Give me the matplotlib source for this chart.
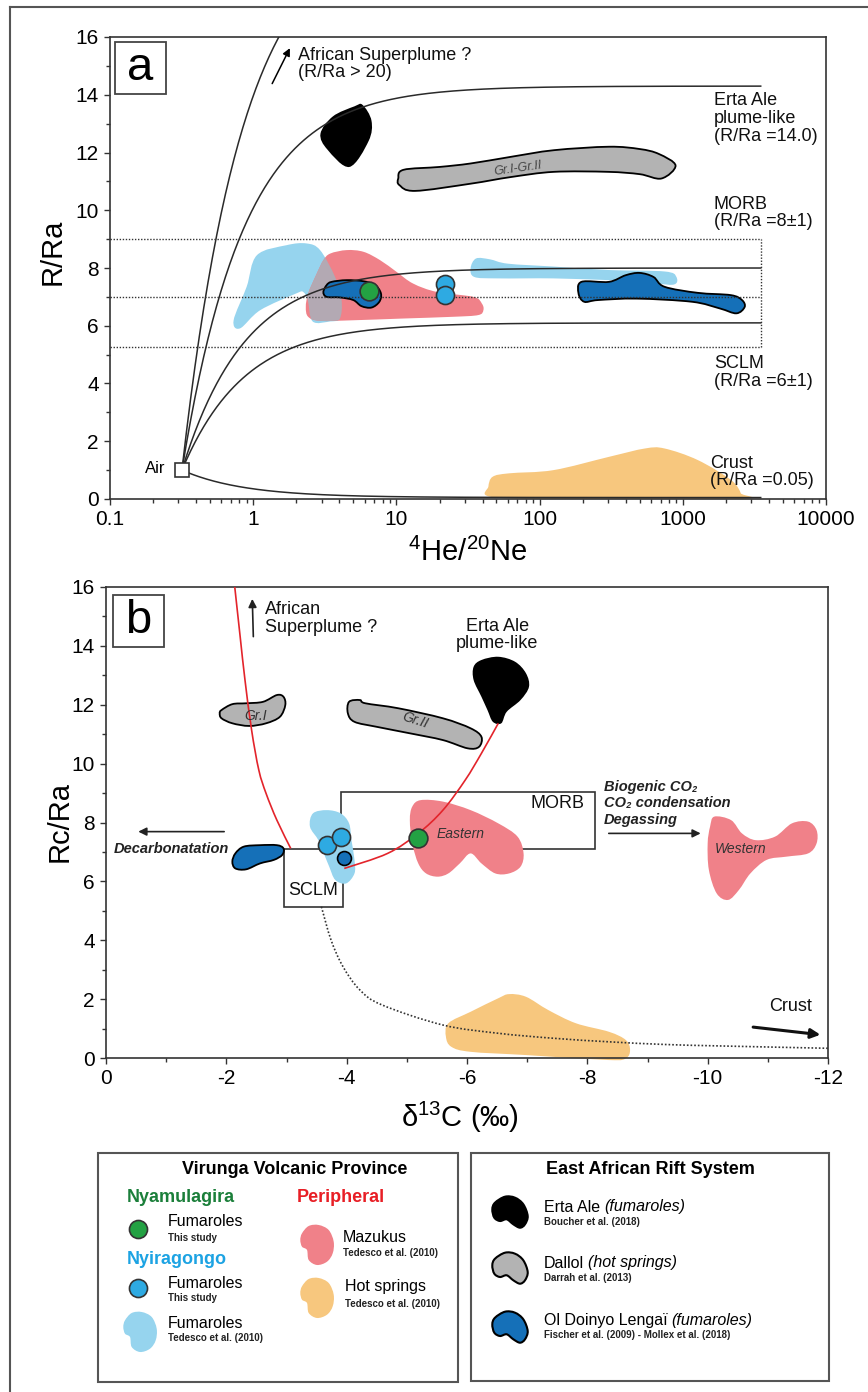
import numpy as np
import matplotlib
matplotlib.use('Agg')
import matplotlib.pyplot as plt
from matplotlib.path import Path
from matplotlib.patches import PathPatch, Rectangle
from matplotlib.lines import Line2D
from matplotlib.ticker import LogLocator, NullFormatter, MultipleLocator

plt.rcParams['font.family'] = ['Liberation Sans', 'DejaVu Sans']
plt.rcParams['mathtext.fontset'] = 'custom'
plt.rcParams['mathtext.rm'] = 'Liberation Sans'
plt.rcParams['mathtext.it'] = 'Liberation Sans:italic'
plt.rcParams['mathtext.bf'] = 'Liberation Sans:bold'
plt.rcParams['axes.unicode_minus'] = False

# ---------------- data: panel a (4He/20Ne vs R/Ra) ----------------
air_hene, air_r = 0.318, 1.0
endmembers = [20.0, 14.3, 8.0, 6.1, 0.05]      # superplume, Erta Ale, MORB, SCLM, crust
morb_band = [7.0, 9.0]
sclm_band = [5.25, 7.0]

erta_a_x = [5.8, 6.7, 6.4, 4.7, 3.3, 2.95, 3.6, 5.1]
erta_a_y = [13.65, 13.1, 12.4, 11.5, 12.1, 12.65, 13.25, 13.6]

dallol_a_x = [10.3, 11.2, 20, 33, 63, 126, 305, 500, 680, 890, 710, 500, 300, 126, 63, 33, 13.5, 10.5]
dallol_a_y = [11.1, 11.4, 11.5, 11.62, 11.85, 12.08, 12.2, 12.12, 11.95, 11.55, 11.1, 11.25, 11.33,
              11.33, 11.15, 10.92, 10.67, 10.87]

nyir_a_x = [0.73, 0.9, 1.06, 1.71, 2.36, 2.93, 3.73, 4.14, 4.03, 3.45, 2.6, 2.4, 2.23, 2.0, 1.12, 0.81]
nyir_a_y = [6.19, 7.35, 8.44, 8.79, 8.85, 8.62, 7.69, 6.89, 6.25, 6.15, 6.15, 6.9, 7.17, 7.12, 6.54, 5.91]

nyir2_a_x = [36, 45, 60, 125, 305, 745, 900, 850, 500, 305, 125, 51, 35, 33]
nyir2_a_y = [8.33, 8.3, 8.15, 8.05, 7.93, 7.88, 7.7, 7.42, 7.55, 7.58, 7.64, 7.64, 7.69, 8.0]

mazuku_a_x = [3.45, 4.5, 5.9, 7.7, 10.0, 13.1, 19.2, 34.5, 39.5, 40.5, 37.3, 24.8, 11.1, 5.0, 2.93,
              2.42, 2.33, 2.42, 2.78, 3.09]
mazuku_a_y = [8.5, 8.62, 8.56, 8.27, 7.87, 7.46, 7.17, 7.0, 6.77, 6.54, 6.37, 6.31, 6.25, 6.19, 6.17,
              6.31, 6.65, 7.12, 7.81, 8.27]

lengai_a_x = [3.26, 3.53, 4.5, 5.9, 7.1, 7.8, 7.6, 6.7, 5.7, 5.0, 4.04, 3.26, 3.09]
lengai_a_y = [7.41, 7.52, 7.58, 7.54, 7.41, 7.12, 6.83, 6.63, 6.68, 6.89, 6.98, 7.0, 7.17]

lengai2_a_x = [196, 305, 399, 499, 624, 745, 1271, 2168, 2590, 2704, 2366, 1811, 1161, 478, 256, 205, 187]
lengai2_a_y = [7.52, 7.52, 7.75, 7.83, 7.69, 7.35, 7.14, 7.06, 6.89, 6.65, 6.43, 6.60, 6.83, 6.94,
               6.89, 6.83, 7.12]

crust_a_x = [47, 61.5, 125, 305, 545, 745, 1271, 2168, 2540, 2477, 125, 45, 43.9]
crust_a_y = [0.77, 0.89, 1.0, 1.46, 1.75, 1.75, 1.35, 0.66, 0.2, 0.0, 0.0, 0.08, 0.43]

nyam_a = (6.47, 7.21)
nyir_pts_a_x = [21.8, 21.8]
nyir_pts_a_y = [7.44, 7.06]

# ---------------- data: panel b (d13C vs Rc/Ra) ----------------
gr1_b_x = [-1.92, -2.10, -2.33, -2.61, -2.84, -2.95, -2.98, -2.89, -2.66, -2.38, -2.10, -1.92, -1.89]
gr1_b_y = [11.82, 12.02, 12.05, 12.10, 12.33, 12.27, 11.99, 11.59, 11.37, 11.28, 11.37, 11.54, 11.71]

gr2_b_x = [-4.04, -4.22, -4.31, -4.86, -5.6, -6.06, -6.24, -6.2, -6.01, -5.6, -5.05, -4.5, -4.13, -4.02]
gr2_b_y = [12.1, 12.16, 12.05, 11.88, 11.54, 11.2, 10.91, 10.57, 10.52, 10.8, 11.03, 11.25, 11.42, 11.71]

erta_b_x = [-6.24, -6.52, -6.80, -6.98, -7.03, -6.89, -6.66, -6.57, -6.43, -6.34, -6.24, -6.11, -6.11]
erta_b_y = [13.52, 13.63, 13.46, 13.07, 12.61, 12.16, 11.76, 11.37, 11.42, 11.82, 12.27, 12.84, 13.29]

lengai_b_x = [-2.15, -2.29, -2.56, -2.84, -2.95, -2.93, -2.79, -2.56, -2.33, -2.15, -2.10]
lengai_b_y = [6.95, 7.18, 7.23, 7.23, 7.12, 6.90, 6.73, 6.61, 6.41, 6.44, 6.67]

nyir_b_x = [-3.44, -3.67, -3.90, -4.04, -4.08, -4.13, -4.13, -3.99, -3.81, -3.71, -3.62, -3.53, -3.39]
nyir_b_y = [8.31, 8.42, 8.31, 7.97, 7.40, 6.73, 6.27, 5.93, 6.05, 6.5, 6.95, 7.40, 7.86]

east_b_x = [-5.09, -5.23, -5.6, -6.06, -6.52, -6.84, -6.94, -6.89, -6.70, -6.47, -6.24, -6.06, -5.88,
            -5.69, -5.51, -5.32, -5.19, -5.09, -5.05]
east_b_y = [8.54, 8.76, 8.71, 8.42, 7.97, 7.52, 6.95, 6.5, 6.27, 6.27, 6.61, 6.95, 6.61, 6.27, 6.16,
            6.27, 6.61, 7.29, 8.08]

west_b_x = [-10.11, -10.39, -10.57, -10.80, -11.12, -11.40, -11.67, -11.81, -11.81, -11.67, -11.31,
            -10.98, -10.71, -10.52, -10.34, -10.15, -10.02, -10.0, -10.04]
west_b_y = [8.2, 8.08, 7.63, 7.40, 7.52, 7.97, 8.03, 7.74, 7.29, 6.95, 6.84, 6.73, 6.27, 5.71, 5.37,
            5.59, 6.39, 7.29, 7.86]

hs_b_x = [-5.69, -6.06, -6.52, -6.70, -6.98, -7.35, -7.81, -8.36, -8.64, -8.71, -8.64, -8.36, -6.98,
          -6.06, -5.74, -5.65]
hs_b_y = [1.18, 1.57, 2.03, 2.17, 2.08, 1.63, 1.18, 0.89, 0.61, 0.27, -0.01, -0.07, 0.1, 0.21, 0.38, 0.72]

red1_x = [-2.14, -2.23, -2.31, -2.42, -2.54, -2.66, -2.84, -3.07]
red1_y = [16.0, 14.31, 12.84, 11.14, 9.78, 8.99, 8.08, 7.12]
red2_x = [-3.96, -4.68, -5.19, -5.6, -5.97, -6.24, -6.52]
red2_y = [6.44, 6.95, 7.63, 8.42, 9.44, 10.35, 11.37]
crust_b_x = [-3.58, -3.74, -3.94, -4.22, -4.59, -5.6, -6.52, -7.44, -8.36, -9.28, -10.2, -12.0]
crust_b_y = [5.14, 4.01, 3.10, 2.31, 1.80, 1.12, 0.84, 0.67, 0.55, 0.46, 0.41, 0.33]

morb_box = (-3.9, 7.1, -8.13, 9.02)   # x0, y0, x1, y1
sclm_box = (-2.96, 5.14, -3.94, 7.1)

nyam_b = (-5.19, 7.46)
nyir_pts_b_x = [-3.67, -3.90]
nyir_pts_b_y = [7.23, 7.52]
lengai_pt_b = (-3.96, 6.78)

# colours
c_lb, c_pink, c_over = '#96d4ee', '#f08189', '#b3a9b3'
c_dblue, c_gray, c_orange = '#1570b8', '#b3b3b3', '#f7c77e'
c_green, c_cblue, c_red = '#23a143', '#2eaae2', '#e3242b'

W, H = 868, 1392
fig = plt.figure(figsize=(W / 100, H / 100), dpi=100)


def fx(px):
    return px / W


def fy(py):
    return 1 - py / H


def smooth(xs, ys, closed=True, logx=False):
    x = np.log10(xs) if logx else np.asarray(xs, float)
    p = np.column_stack([x, np.asarray(ys, float)])
    n = len(p)
    verts = [p[0]]
    codes = [Path.MOVETO]
    for i in range(n if closed else n - 1):
        p0 = p[(i - 1) % n] if (closed or i > 0) else p[0]
        p1, p2 = p[i], p[(i + 1) % n]
        p3 = p[(i + 2) % n] if (closed or i + 2 < n) else p[-1]
        verts += [p1 + (p2 - p0) / 6, p2 - (p3 - p1) / 6, p2]
        codes += [Path.CURVE4] * 3
    if closed:
        verts.append(p[0])
        codes.append(Path.CLOSEPOLY)
    verts = np.array(verts)
    if logx:
        verts[:, 0] = 10 ** verts[:, 0]
    return Path(verts, codes)


def blob(ax, xs, ys, fc, ec='none', lw=1.3, z=2, logx=False):
    p = PathPatch(smooth(xs, ys, logx=logx), fc=fc, ec=ec, lw=lw, zorder=z)
    ax.add_patch(p)
    return p


def style_axes(ax):
    for s in ax.spines.values():
        s.set_color('#333333')
        s.set_linewidth(1.2)
    ax.tick_params(which='both', direction='out', color='#333333', labelsize=15, width=1)
    ax.tick_params(which='major', length=4.5)
    ax.tick_params(which='minor', length=3)


# ======================= panel a =======================
ax1 = fig.add_axes([fx(110), fy(499), 716 / W, 462 / H])
ax1.set_xscale('log')
ax1.set_xlim(0.1, 10000)
ax1.set_ylim(0, 16)
style_axes(ax1)
ax1.set_xticks([0.1, 1, 10, 100, 1000, 10000])
ax1.set_xticklabels(['0.1', '1', '10', '100', '1000', '10000'])
ax1.xaxis.set_minor_locator(LogLocator(base=10, subs=np.arange(2, 10), numticks=20))
ax1.xaxis.set_minor_formatter(NullFormatter())
ax1.yaxis.set_major_locator(MultipleLocator(2))
ax1.yaxis.set_minor_locator(MultipleLocator(1))
ax1.set_ylabel('R/Ra', fontsize=21)
ax1.yaxis.set_label_coords(-0.061, 0.535)
ax1.set_xlabel(r'$^{4}$He/$^{20}$Ne', fontsize=21)
ax1.xaxis.set_label_coords(0.5, -0.084)

lb1 = blob(ax1, nyir_a_x, nyir_a_y, c_lb, logx=True, z=2)
pk1 = blob(ax1, mazuku_a_x, mazuku_a_y, c_pink, logx=True, z=3)
ov = PathPatch(smooth(nyir_a_x, nyir_a_y, logx=True), fc=c_over, ec='none', zorder=3.5)
ax1.add_patch(ov)
ov.set_clip_path(pk1)
blob(ax1, nyir2_a_x, nyir2_a_y, c_lb, logx=True, z=2)
blob(ax1, lengai2_a_x, lengai2_a_y, c_dblue, ec='k', logx=True, z=4)
blob(ax1, lengai_a_x, lengai_a_y, c_dblue, ec='k', logx=True, z=4)
blob(ax1, crust_a_x, crust_a_y, c_orange, logx=True, z=2)
blob(ax1, dallol_a_x, dallol_a_y, c_gray, ec='k', logx=True, z=4)
blob(ax1, erta_a_x, erta_a_y, 'k', logx=True, z=4)

# binary mixing between air and each end-member
hene = np.logspace(np.log10(air_hene), np.log10(3500), 400)
fair = air_hene / hene
for rm in endmembers:
    ax1.plot(hene, fair * air_r + (1 - fair) * rm, color='#2a2a2a', lw=1.1, zorder=5)

dot = dict(color='#333333', lw=1.0, ls=(0, (1, 1.2)), zorder=5)
for yv in [sclm_band[0], morb_band[0], morb_band[1]]:
    ax1.plot([0.1, 3500], [yv, yv], **dot)
ax1.plot([3500, 3500], [sclm_band[0], morb_band[1]], **dot)

ax1.plot(nyir_pts_a_x, nyir_pts_a_y, 'o', ms=13, mfc=c_cblue, mec='#333333', mew=1.2, zorder=7)
ax1.plot(*nyam_a, 'o', ms=13.5, mfc=c_green, mec='#333333', mew=1.2, zorder=7)
ax1.plot(air_hene, air_r, 's', ms=10.5, mfc='white', mec='#333333', mew=1.2, zorder=8, clip_on=False)

ax1.annotate('', xy=(1.84, 15.7), xytext=(1.33, 14.3),
             arrowprops=dict(arrowstyle='-|>', color='k', lw=1.1, mutation_scale=11))
ta = dict(fontsize=13, ha='left', va='center', linespacing=1.05, color='#111111')
ax1.text(2.06, 15.07, 'African Superplume ?\n(R/Ra > 20)', **ta)
ax1.text(1650, 13.18, 'Erta Ale\nplume-like\n(R/Ra =14.0)', **ta)
ax1.text(1650, 9.9, 'MORB\n(R/Ra =8±1)', **ta)
ax1.text(1650, 4.38, 'SCLM\n(R/Ra =6±1)', **ta)
ax1.text(1550, 0.93, 'Crust\n(R/Ra =0.05)', **ta)
ax1.text(0.245, 1.04, 'Air', fontsize=12, ha='right', va='center')
ax1.text(70, 11.44, 'Gr.I-Gr.II', fontsize=9, style='italic', color='#444444', rotation=8,
         ha='center', va='center', zorder=6)

ax1.add_patch(Rectangle((0.007, 0.877), 0.071, 0.1125, transform=ax1.transAxes,
                        fc='white', ec='#444444', lw=1.3, zorder=9))
ax1.text(0.0426, 0.933, 'a', transform=ax1.transAxes, fontsize=34, ha='center', va='center', zorder=10)

# ======================= panel b =======================
ax2 = fig.add_axes([fx(106), fy(1058), 722 / W, 471 / H])
ax2.set_xlim(0, -12)
ax2.set_ylim(0, 16)
style_axes(ax2)
ax2.xaxis.set_major_locator(MultipleLocator(2))
ax2.xaxis.set_minor_locator(MultipleLocator(1))
ax2.yaxis.set_major_locator(MultipleLocator(2))
ax2.yaxis.set_minor_locator(MultipleLocator(1))
ax2.set_ylabel('Rc/Ra', fontsize=21)
ax2.yaxis.set_label_coords(-0.045, 0.503)
ax2.set_xlabel('δ$^{13}$C (‰)', fontsize=21)
ax2.xaxis.set_label_coords(0.49, -0.089)

for (x0, y0, x1, y1) in [morb_box, sclm_box]:
    ax2.add_patch(Rectangle((x0, y0), x1 - x0, y1 - y0, fc='white', ec='#333333', lw=1.2, zorder=1))

blob(ax2, nyir_b_x, nyir_b_y, c_lb, z=2)
blob(ax2, east_b_x, east_b_y, c_pink, z=2)
blob(ax2, west_b_x, west_b_y, c_pink, z=2)
hs = blob(ax2, hs_b_x, hs_b_y, c_orange, z=2)
hs.set_clip_on(False)
blob(ax2, gr1_b_x, gr1_b_y, c_gray, ec='k', z=3)
blob(ax2, gr2_b_x, gr2_b_y, c_gray, ec='k', z=3)
blob(ax2, erta_b_x, erta_b_y, 'k', z=3)
blob(ax2, lengai_b_x, lengai_b_y, c_dblue, ec='k', z=3)

ax2.add_patch(PathPatch(smooth(red1_x, red1_y, closed=False), fc='none', ec=c_red, lw=1.2, zorder=4))
ax2.add_patch(PathPatch(smooth(red2_x, red2_y, closed=False), fc='none', ec=c_red, lw=1.2, zorder=4))
ax2.add_patch(PathPatch(smooth(crust_b_x, crust_b_y, closed=False), fc='none', ec='#333333', lw=1.2,
                        ls=(0, (1, 1.2)), zorder=4))

ax2.plot(nyir_pts_b_x, nyir_pts_b_y, 'o', ms=13, mfc=c_cblue, mec='#333333', mew=1.2, zorder=6)
ax2.plot(*lengai_pt_b, 'o', ms=10, mfc=c_dblue, mec='k', mew=1.2, zorder=6)
ax2.plot(*nyam_b, 'o', ms=13.5, mfc=c_green, mec='#333333', mew=1.2, zorder=6)

arr = dict(arrowstyle='-|>', color='#222222', lw=1.2, mutation_scale=12)
ax2.annotate('', xy=(-2.43, 15.69), xytext=(-2.45, 14.22), arrowprops=arr)
ax2.annotate('', xy=(-0.49, 7.69), xytext=(-2.01, 7.69), arrowprops=arr)
ax2.annotate('', xy=(-9.93, 7.63), xytext=(-8.31, 7.63), arrowprops=arr)
ax2.annotate('', xy=(-11.92, 0.78), xytext=(-10.71, 1.06),
             arrowprops=dict(arrowstyle='-|>', color='#111111', lw=2.2, mutation_scale=14))

tb = dict(fontsize=13, va='center', linespacing=1.05, color='#111111')
ax2.text(-2.64, 14.92, 'African\nSuperplume ?', ha='left', **tb)
ax2.text(-6.5, 14.37, 'Erta Ale\nplume-like', ha='center', **tb)
ax2.text(-7.51, 8.65, 'MORB', ha='center', **tb)
ax2.text(-3.45, 5.68, 'SCLM', ha='center', **tb)
ax2.text(-11.37, 1.74, 'Crust', ha='center', **tb)
bi = dict(fontsize=10.5, fontweight='bold', style='italic', va='center', color='#222222')
ax2.text(-1.09, 7.09, 'Decarbonatation', ha='center', **bi)
ax2.text(-8.27, 8.65, 'Biogenic CO₂\nCO₂ condensation\nDegassing', ha='left', linespacing=1.25, **bi)
it = dict(fontsize=10, style='italic', color='#333333', ha='center', va='center', zorder=7)
ax2.text(-5.89, 7.6, 'Eastern', **it)
ax2.text(-10.55, 7.09, 'Western', **it)
ax2.text(-2.48, 11.63, 'Gr.I', **it)
ax2.text(-5.13, 11.48, 'Gr.II', rotation=-18, **it)

ax2.add_patch(Rectangle((0.0097, 0.8726), 0.0706, 0.110, transform=ax2.transAxes,
                        fc='white', ec='#444444', lw=1.3, zorder=9))
ax2.text(0.045, 0.928, 'b', transform=ax2.transAxes, fontsize=34, ha='center', va='center', zorder=10)

# ======================= outer frame & legend =======================
fig.add_artist(Line2D([fx(10), 1.0], [fy(7), fy(7)], color='#555555', lw=1.5))
fig.add_artist(Line2D([fx(10), fx(10)], [fy(7), 0], color='#555555', lw=1.5))
for (x0, y0, x1, y1) in [(98, 1153, 458, 1382), (471, 1153, 829, 1381)]:
    fig.add_artist(Rectangle((fx(x0), fy(y1)), (x1 - x0) / W, (y1 - y0) / H, fc='none',
                             ec='#555555', lw=1.5, transform=fig.transFigure))

kid_h = [(-15, 9.3), (-5, 15.3), (5, 14.3), (13.3, 7.7), (17.7, -4), (15, -12.3), (10, -15.7),
         (3.3, -12.3), (-3.3, -7.3), (-10, -9), (-15.7, -5.7), (-17.7, 2.7)]
kid_v = [(-15, 11.7), (-8.3, 19), (1.7, 20), (11.7, 15), (16.7, 3.3), (15.7, -8.3), (10, -16.7),
         (0, -20), (-8.3, -15), (-10, -5), (-15, -1.7), (-16.7, 5)]


def kidney(cx, cy, shape, fc, ec='none'):
    xs = [fx(cx + s[0]) for s in shape]
    ys = [fy(cy - s[1]) for s in shape]
    fig.add_artist(PathPatch(smooth(xs, ys), fc=fc, ec=ec, lw=1.5, transform=fig.transFigure))


def ftext(px, py, s, **kw):
    kw.setdefault('fontsize', 11.5)
    kw.setdefault('va', 'center')
    kw.setdefault('ha', 'left')
    return fig.text(fx(px), fy(py), s, **kw)


renderer = fig.canvas.get_renderer()


def mixed(px, py, a, b):
    t = ftext(px, py, a)
    x1 = t.get_window_extent(renderer).x1
    ftext(x1 + 4, py, b, style='italic')


small = dict(fontsize=7, fontweight='bold', color='#222222')
ftext(295, 1170, 'Virunga Volcanic Province', fontsize=13, fontweight='bold', ha='center')
ftext(127, 1198, 'Nyamulagira', fontsize=13, fontweight='bold', color='#1b7f3a')
ftext(297, 1198, 'Peripheral', fontsize=13, fontweight='bold', color='#e81e25')
ftext(127, 1259, 'Nyiragongo', fontsize=13, fontweight='bold', color='#1ca3e3')
fig.add_artist(Line2D([fx(138)], [fy(1229)], marker='o', ms=13, mfc=c_green, mec='#333333', mew=1.2))
fig.add_artist(Line2D([fx(138)], [fy(1288)], marker='o', ms=13, mfc=c_cblue, mec='#333333', mew=1.2))
kidney(140, 1332, kid_v, c_lb)
kidney(317, 1245, kid_v, c_pink)
kidney(317, 1298, kid_v, c_orange)
ftext(168, 1222, 'Fumaroles')
ftext(168, 1238, 'This study', **small)
ftext(168, 1283, 'Fumaroles')
ftext(168, 1298, 'This study', **small)
ftext(168, 1323, 'Fumaroles')
ftext(168, 1338, 'Tedesco et al. (2010)', **small)
ftext(343, 1238, 'Mazukus')
ftext(343, 1253, 'Tedesco et al. (2010)', **small)
ftext(345, 1287, 'Hot springs')
ftext(345, 1304, 'Tedesco et al. (2010)', **small)

ftext(650, 1169, 'East African Rift System', fontsize=13, fontweight='bold', ha='center')
kidney(510, 1212, kid_h, 'black', ec='black')
kidney(510, 1268, kid_h, c_gray, ec='black')
kidney(510, 1327, kid_h, c_dblue, ec='black')
mixed(544, 1207, 'Erta Ale', '(fumaroles)')
ftext(544, 1222, 'Boucher et al. (2018)', **small)
mixed(544, 1263, 'Dallol', '(hot springs)')
ftext(544, 1278, 'Darrah et al. (2013)', **small)
mixed(544, 1320, 'Ol Doinyo Lengaï', '(fumaroles)')
ftext(544, 1335, 'Fischer et al. (2009) - Mollex et al. (2018)', **small)

fig.savefig('out.png', dpi=100)
